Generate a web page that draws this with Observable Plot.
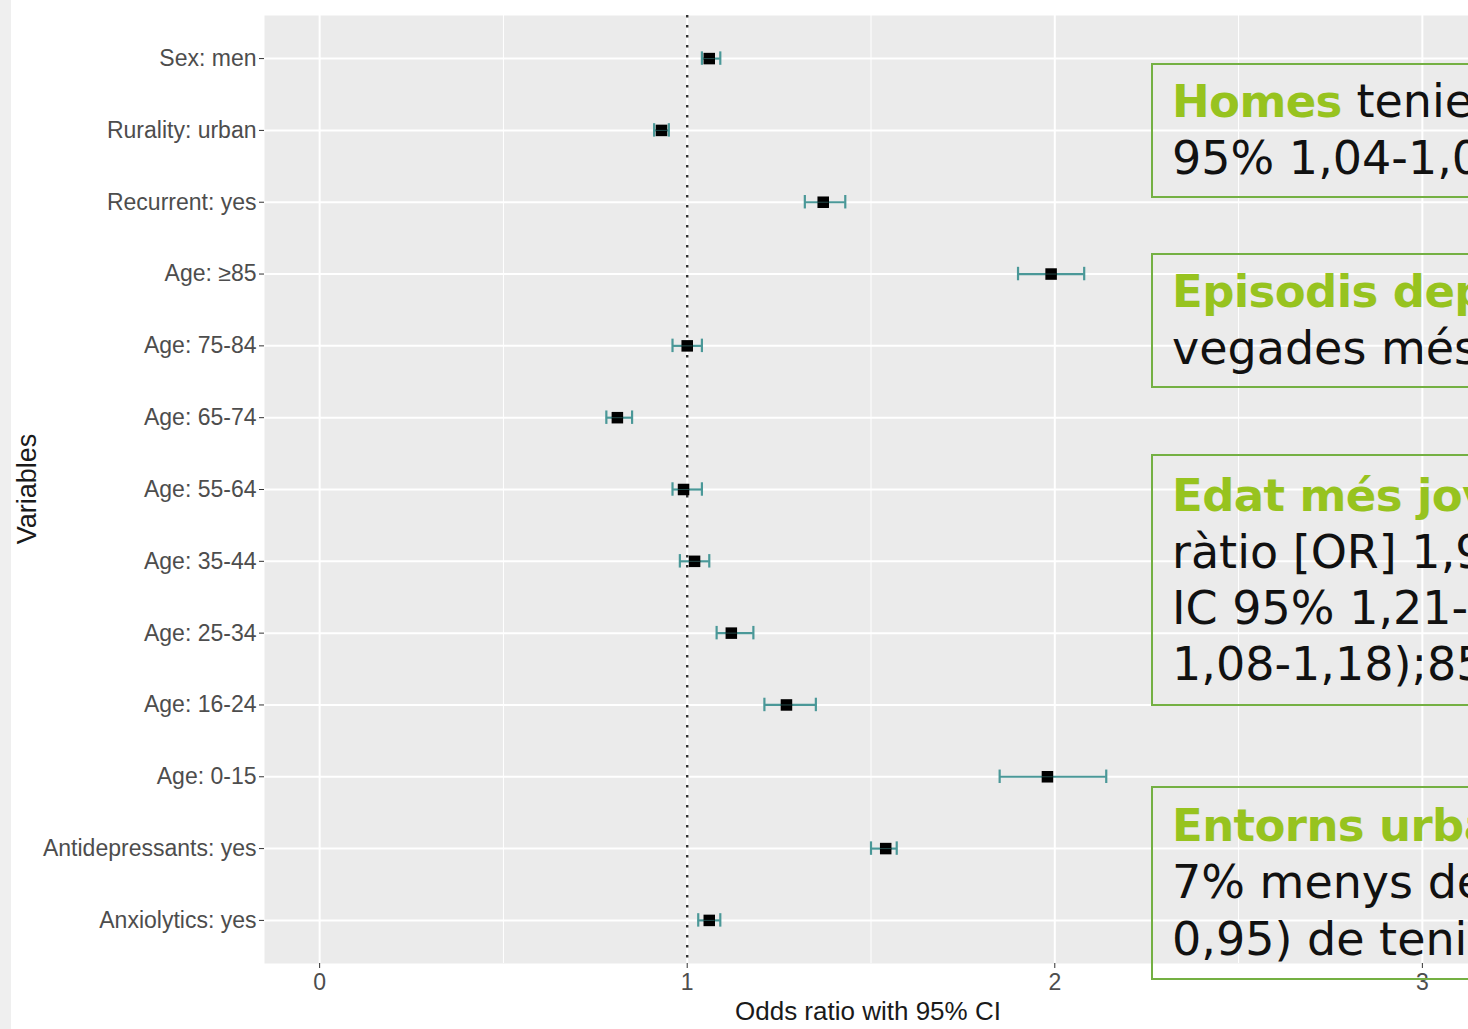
<!DOCTYPE html>
<html>
<head>
<meta charset="utf-8">
<script src="https://cdn.jsdelivr.net/npm/d3@7"></script>
<script src="https://cdn.jsdelivr.net/npm/@observablehq/plot@0.6"></script>
<style>
  html, body { margin: 0; padding: 0; background: #ffffff; overflow: hidden; }
  #wrap { position: relative; width: 1468px; height: 1029px; overflow: hidden; background: #fff; }
  #strip { position: absolute; left: 0; top: 0; width: 11px; height: 1029px; background: #efefef; z-index: 2; }
  #chart { position: absolute; left: 0; top: 0; width: 1477px; }
  #chart svg { max-width: none !important; }
  .axtitle { position: absolute; font-family: "Liberation Sans", Arial, sans-serif; color: #1a1a1a; white-space: nowrap; }
  .box { position: absolute; left: 1151px; width: 700px; box-sizing: border-box; border: 2px solid #74b043;
         padding-left: 19px; font-family: "DejaVu Sans", sans-serif; font-size: 46px; line-height: 57px;
         color: #111; white-space: nowrap; }
  .box b { color: #97c31f; font-weight: 700; font-size: 45px; letter-spacing: -0.6px; }
</style>
</head>
<body>
<div id="wrap">
  <div id="chart"></div>
  <div id="strip"></div>
  <div class="axtitle" style="left:735px; top:996px; font-size:26px;">Odds ratio with 95% CI</div>
  <div class="axtitle" style="left:27px; top:489px; font-size:27px; transform: translate(-50%,-50%) rotate(-90deg);">Variables</div>

  <div class="box" style="top:63px; height:135px; padding-top:8px;">
    <div><b>Homes</b> tenien més risc (OR 1,06; IC</div>
    <div>95% 1,04-1,09)</div>
  </div>
  <div class="box" style="top:253px; height:135px; padding-top:8px;">
    <div><b>Episodis depressius recurrents:</b> 1,37</div>
    <div>vegades més risc</div>
  </div>
  <div class="box" style="top:454px; height:252px; padding-top:11px; line-height:56px;">
    <div><b>Edat més jove:</b> odds</div>
    <div>ràtio [OR] 1,98 (0-15 anys);</div>
    <div>IC 95% 1,21-1,35 (16-24 anys); IC 95%</div>
    <div>1,08-1,18);85 o més anys</div>
  </div>
  <div class="box" style="top:786px; height:194px; padding-top:9px;">
    <div><b>Entorns urbans:</b></div>
    <div>7% menys de risc (OR 0,93; IC 0,91-</div>
    <div>0,95) de tenir depressió</div>
  </div>
</div>
<script>
const categories = ["Sex: men", "Rurality: urban", "Recurrent: yes", "Age: ≥85", "Age: 75-84", "Age: 65-74",
  "Age: 55-64", "Age: 35-44", "Age: 25-34", "Age: 16-24", "Age: 0-15", "Antidepressants: yes", "Anxiolytics: yes"];
const oddsRatio = [1.06, 0.93, 1.37, 1.99, 1.00, 0.81, 0.99, 1.02, 1.12, 1.27, 1.98, 1.54, 1.06];
const ciLow     = [1.04, 0.91, 1.32, 1.90, 0.96, 0.78, 0.96, 0.98, 1.08, 1.21, 1.85, 1.50, 1.03];
const ciHigh    = [1.09, 0.95, 1.43, 2.08, 1.04, 0.85, 1.04, 1.06, 1.18, 1.35, 2.14, 1.57, 1.09];
const majorTicks = [0, 1, 2, 3];
const minorTicks = [0.5, 1.5, 2.5];
const refLine = [1];

const data = categories.map((c, i) => ({cat: c, or: oddsRatio[i], lo: ciLow[i], hi: ciHigh[i]}));
const teal = "#4a9898";
const capInset = 22;

const chart = Plot.plot({
  width: 1477,
  height: 1029,
  marginLeft: 264,
  marginRight: 0,
  marginTop: 15,
  marginBottom: 66,
  style: {background: "transparent", fontFamily: "'Liberation Sans', Arial, sans-serif", maxWidth: "none"},
  x: {domain: [-0.15, 3.15]},
  y: {type: "band", domain: categories, paddingInner: 0.2, paddingOuter: 0.2, round: false},
  marks: [
    Plot.frame({fill: "#ebebeb", stroke: null}),
    Plot.ruleX(minorTicks, {stroke: "#ffffff", strokeWidth: 1}),
    Plot.ruleX(majorTicks, {stroke: "#ffffff", strokeWidth: 2}),
    Plot.ruleY(categories, {y: d => d, stroke: "#ffffff", strokeWidth: 2}),
    Plot.ruleX(refLine, {stroke: "#333333", strokeWidth: 2.4, strokeDasharray: "2.5,7.5"}),
    Plot.ruleY(data, {y: "cat", x1: "lo", x2: "hi", stroke: teal, strokeWidth: 2.2}),
    Plot.tickX(data, {x: "lo", y: "cat", stroke: teal, strokeWidth: 2.2, insetTop: capInset, insetBottom: capInset}),
    Plot.tickX(data, {x: "hi", y: "cat", stroke: teal, strokeWidth: 2.2, insetTop: capInset, insetBottom: capInset}),
    Plot.dot(data, {x: "or", y: "cat", symbol: "square", fill: "#000", r: 6.5}),
    Plot.ruleY(data, {y: "cat", x1: d => d.or - 0.016, x2: d => d.or + 0.016, stroke: teal, strokeWidth: 1, strokeOpacity: 0.5}),
    Plot.axisX({ticks: majorTicks, tickFormat: d => String(d), tickSize: 5, tickPadding: 5, fontSize: 23, color: "#4d4d4d", stroke: "#333", label: null}),
    Plot.axisY({tickSize: 5, tickPadding: 3, fontSize: 23, color: "#4d4d4d", stroke: "#333", label: null})
  ]
});
document.getElementById("chart").appendChild(chart);
</script>
</body>
</html>
